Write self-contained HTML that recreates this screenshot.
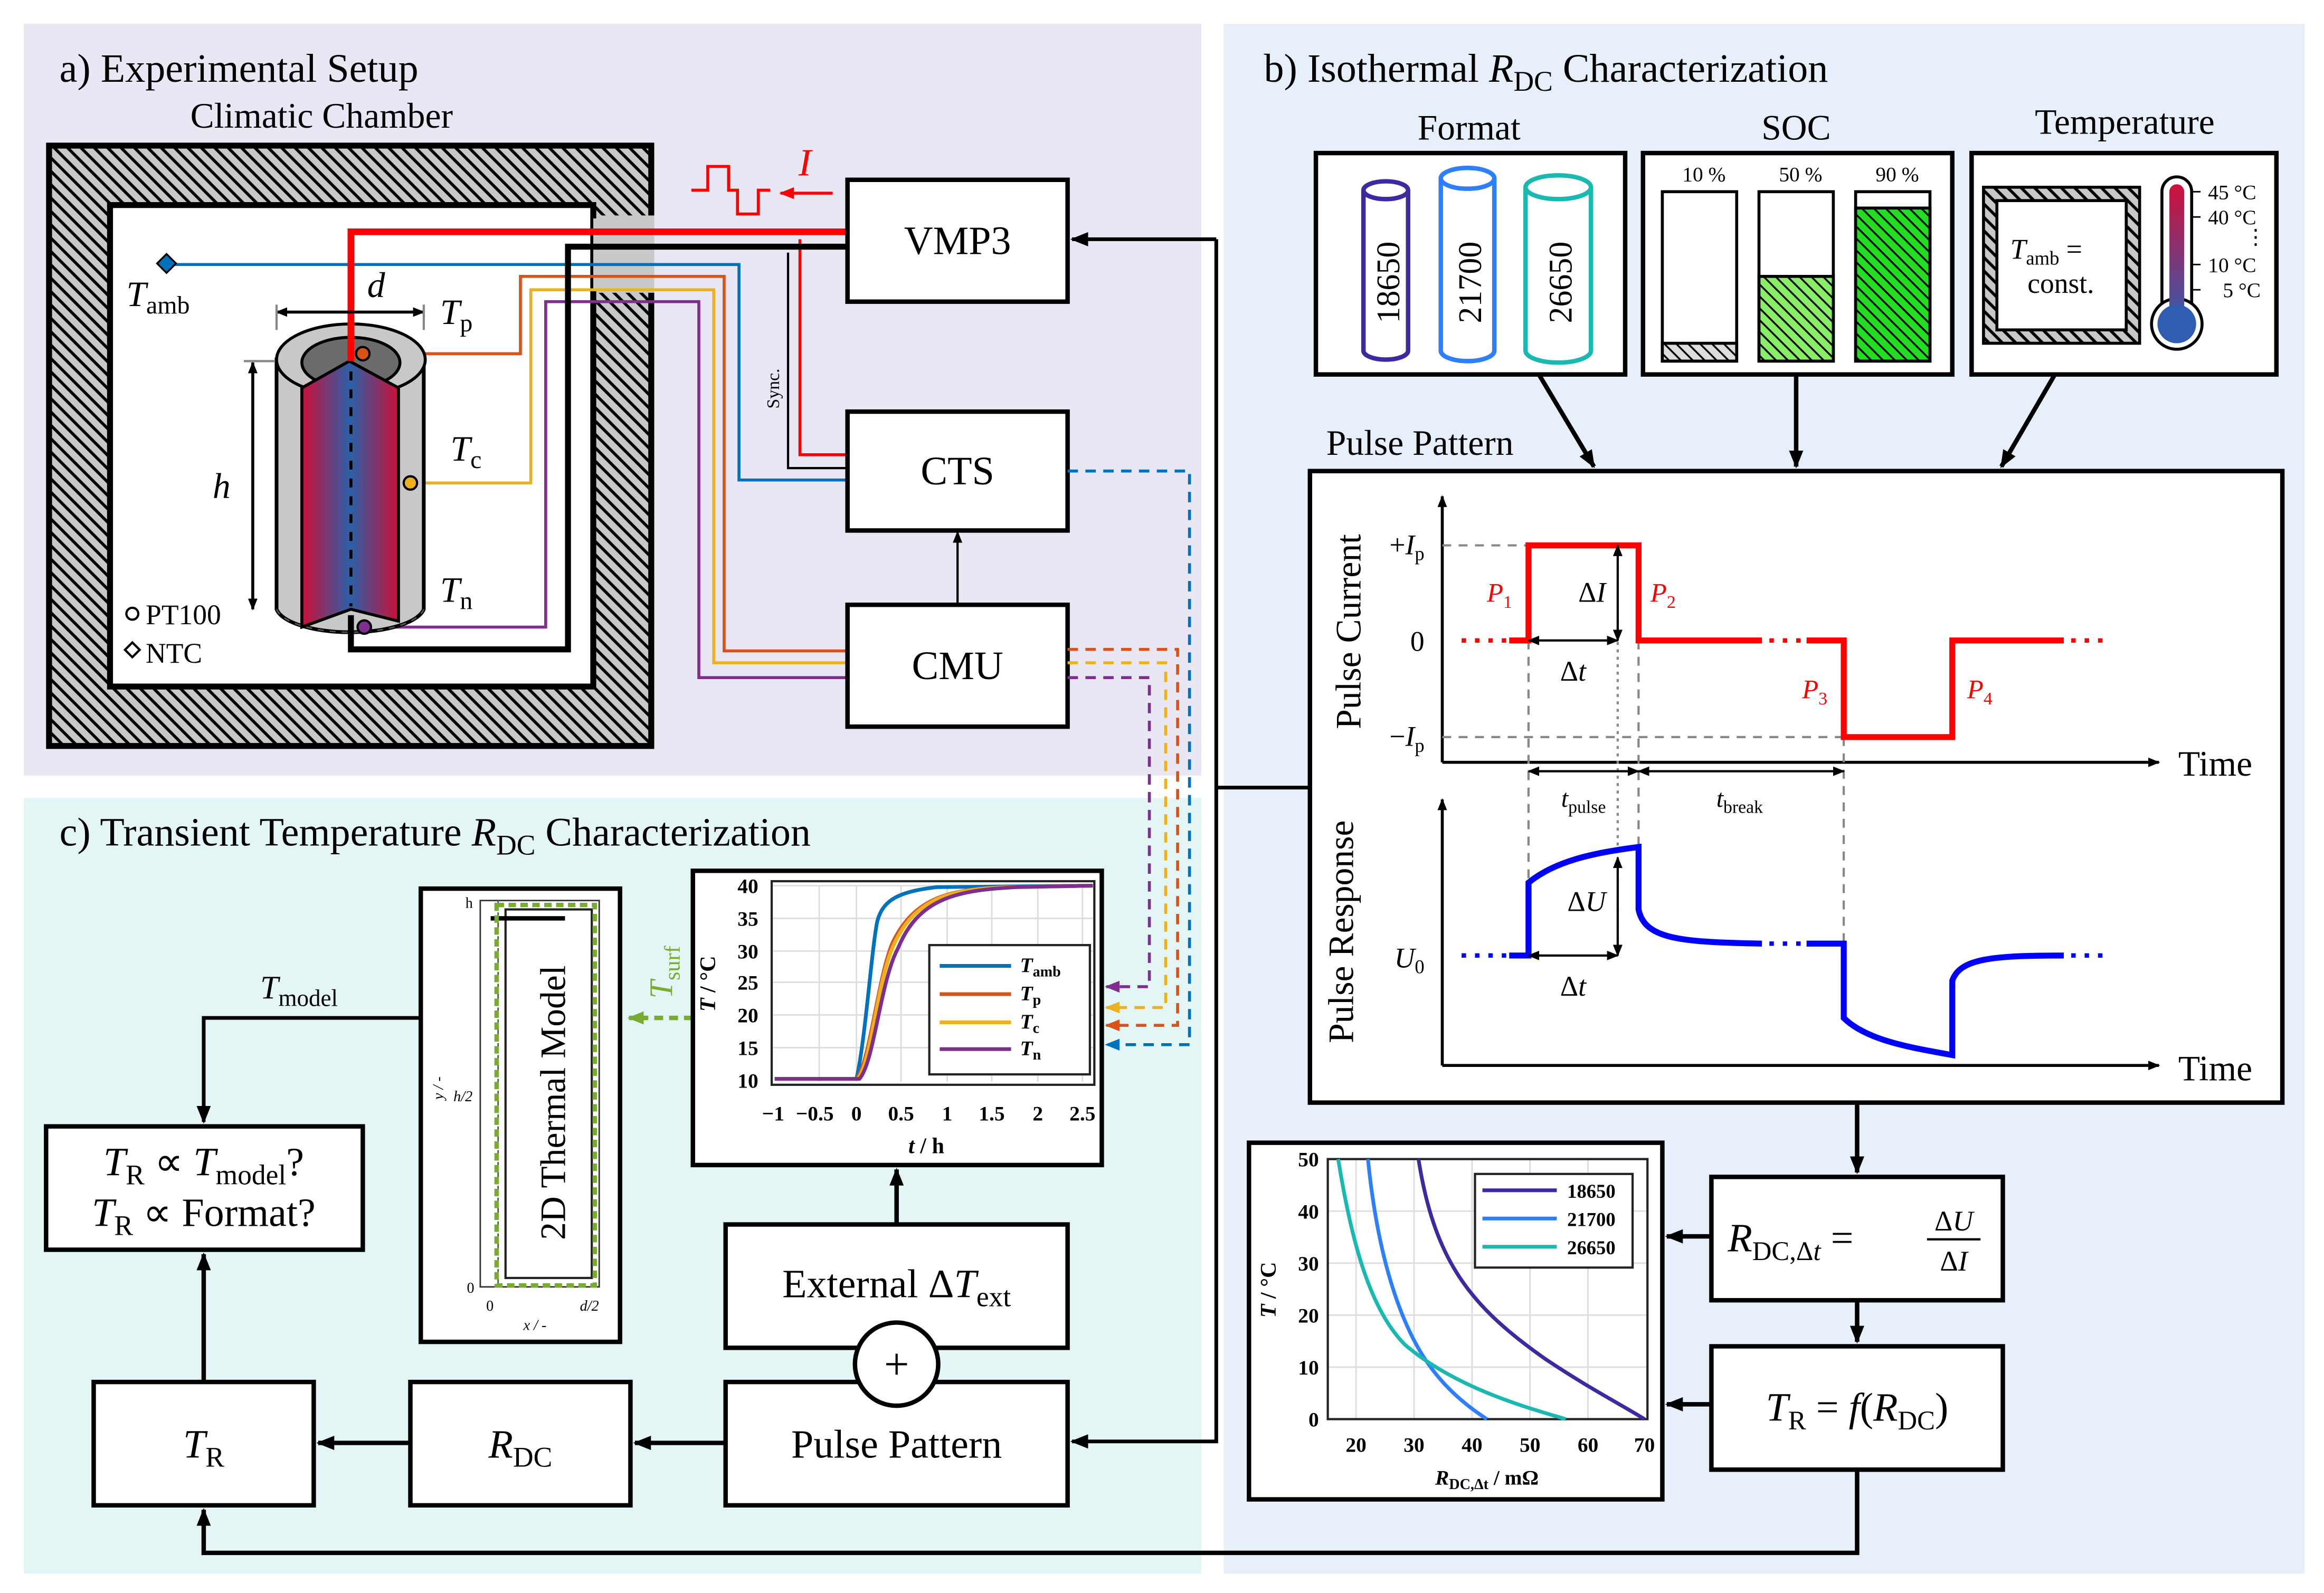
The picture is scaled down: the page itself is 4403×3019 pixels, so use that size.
<!DOCTYPE html>
<html><head><meta charset="utf-8"><style>
html,body{margin:0;padding:0;background:#fff}
svg{display:block}
text{font-family:"Liberation Serif",serif;fill:#000}
.i{font-style:italic}
</style></head><body>
<svg width="4403" height="3019" viewBox="0 0 1563 1072" preserveAspectRatio="none" xmlns="http://www.w3.org/2000/svg">
<defs>
<pattern id="hatch" width="9" height="9" patternUnits="userSpaceOnUse">
<rect width="9" height="9" fill="#c8c8c8"/><path d="M-2,-2 L11,11 M-2,7 L2,11 M7,-2 L11,2" stroke="#000" stroke-width="2"/></pattern>
<pattern id="ghatch" width="8" height="8" patternUnits="userSpaceOnUse">
<rect width="8" height="8" fill="#22dd22"/><path d="M-2,-2 L10,10 M-2,6 L2,10 M6,-2 L10,2" stroke="#000" stroke-width="1.2"/></pattern>
<pattern id="lghatch" width="8" height="8" patternUnits="userSpaceOnUse">
<rect width="8" height="8" fill="#88ee66"/><path d="M-2,-2 L10,10 M-2,6 L2,10 M6,-2 L10,2" stroke="#000" stroke-width="1.2"/></pattern>
<pattern id="bhatch" width="8" height="8" patternUnits="userSpaceOnUse">
<rect width="8" height="8" fill="#ddd"/><path d="M-2,-2 L10,10 M-2,6 L2,10 M6,-2 L10,2" stroke="#000" stroke-width="1.2"/></pattern>
<linearGradient id="cellg" x1="0" x2="1" y1="0" y2="0">
<stop offset="0" stop-color="#cc0f36"/><stop offset="0.5" stop-color="#2a60a8"/><stop offset="1" stop-color="#cc0f36"/></linearGradient>
<linearGradient id="therm" x1="0" x2="0" y1="0" y2="1">
<stop offset="0" stop-color="#d0103a"/><stop offset="1" stop-color="#2f5db0"/></linearGradient>
<marker id="ar" viewBox="0 0 10 10" refX="9" refY="5" markerWidth="5" markerHeight="5" orient="auto-start-reverse" markerUnits="userSpaceOnUse"><path d="M0,0 L10,5 L0,10 Z"/></marker>
<marker id="a2" viewBox="0 0 10 10" refX="9" refY="5" markerWidth="12" markerHeight="12" orient="auto-start-reverse" markerUnits="userSpaceOnUse"><path d="M0,1 L10,5 L0,9 Z" fill="#000"/></marker>
<marker id="as" viewBox="0 0 10 10" refX="9" refY="5" markerWidth="8" markerHeight="8" orient="auto-start-reverse" markerUnits="userSpaceOnUse"><path d="M0,1 L10,5 L0,9 Z" fill="#000"/></marker>
<marker id="ab" viewBox="0 0 10 10" refX="9" refY="5" markerWidth="10" markerHeight="10" orient="auto-start-reverse" markerUnits="userSpaceOnUse"><path d="M0,1 L10,5 L0,9 Z" fill="#0072bd"/></marker>
<marker id="ao" viewBox="0 0 10 10" refX="9" refY="5" markerWidth="10" markerHeight="10" orient="auto-start-reverse" markerUnits="userSpaceOnUse"><path d="M0,1 L10,5 L0,9 Z" fill="#d95319"/></marker>
<marker id="ay" viewBox="0 0 10 10" refX="9" refY="5" markerWidth="10" markerHeight="10" orient="auto-start-reverse" markerUnits="userSpaceOnUse"><path d="M0,1 L10,5 L0,9 Z" fill="#edb120"/></marker>
<marker id="ap" viewBox="0 0 10 10" refX="9" refY="5" markerWidth="10" markerHeight="10" orient="auto-start-reverse" markerUnits="userSpaceOnUse"><path d="M0,1 L10,5 L0,9 Z" fill="#7e2f8e"/></marker>
<marker id="ag" viewBox="0 0 10 10" refX="9" refY="5" markerWidth="11" markerHeight="11" orient="auto-start-reverse" markerUnits="userSpaceOnUse"><path d="M0,1 L10,5 L0,9 Z" fill="#77ac30"/></marker>
<marker id="ared" viewBox="0 0 10 10" refX="9" refY="5" markerWidth="10" markerHeight="10" orient="auto-start-reverse" markerUnits="userSpaceOnUse"><path d="M0,1 L10,5 L0,9 Z" fill="#f00"/></marker>
</defs>

<!-- panels -->
<rect x="16" y="16" width="792" height="506" fill="#e9e7f4"/>
<rect x="823" y="16" width="727" height="1043" fill="#e7effb"/>
<rect x="16" y="537" width="792" height="522" fill="#e3f6f5"/>

<!-- Panel a -->
<text x="40" y="55" font-size="27">a) Experimental Setup</text>
<text x="128" y="86" font-size="24">Climatic Chamber</text>
<rect x="33" y="98" width="405" height="404" fill="url(#hatch)" stroke="#000" stroke-width="4"/>
<rect x="399" y="145" width="41" height="52" fill="#c8c8c8"/>
<rect x="74" y="138" width="325" height="324" fill="#fff" stroke="#000" stroke-width="4"/>
<rect x="399" y="147" width="3" height="48" fill="#c8c8c8"/>

<!-- wires -->
<polyline points="112,178 497,178 497,323 570,323" fill="none" stroke="#0072bd" stroke-width="2"/>
<polyline points="244,238 350,238 350,186 487,186 487,438 570,438" fill="none" stroke="#d95319" stroke-width="2"/>
<polyline points="276,325 357,325 357,195 480,195 480,446 570,446" fill="none" stroke="#edb120" stroke-width="2"/>
<polyline points="245,422 367,422 367,203 470,203 470,456 570,456" fill="none" stroke="#7e2f8e" stroke-width="2"/>
<polyline points="538,161 538,306 570,306" fill="none" stroke="#f00" stroke-width="2"/>
<polyline points="530,170 530,315 570,315" fill="none" stroke="#000" stroke-width="1.5"/>
<text transform="translate(524,275) rotate(-90)" font-size="12">Sync.</text>

<!-- cell -->
<path d="M186,242 L186,410 A50,18 0 0 0 285,410 L285,242 Z" fill="#c8c8c8" stroke="#000" stroke-width="2.5"/>
<ellipse cx="236" cy="242" rx="50" ry="24" fill="#c8c8c8" stroke="#000" stroke-width="2"/>
<ellipse cx="236" cy="244" rx="33" ry="17" fill="#6b6b6b" stroke="#000" stroke-width="2"/>
<path d="M203,261 L235,243 L268,261 L268,418 L236,410 L203,422 Z" fill="url(#cellg)" stroke="#000" stroke-width="2"/>
<line x1="236" y1="250" x2="236" y2="408" stroke="#000" stroke-width="2" stroke-dasharray="6,6"/>
<path d="M186,410 A50,18 0 0 0 285,410" fill="none" stroke="#555" stroke-width="1" stroke-dasharray="4,4"/>
<polyline points="236,243 236,156 570,156" fill="none" stroke="#f00" stroke-width="4.5"/>
<polyline points="236,414 236,437 382,437 382,166 570,166" fill="none" stroke="#000" stroke-width="4"/>
<circle cx="244" cy="238" r="4.5" fill="#d95319" stroke="#000" stroke-width="1.5"/>
<circle cx="276" cy="325" r="4.5" fill="#edb120" stroke="#000" stroke-width="1.5"/>
<circle cx="245" cy="422" r="4.5" fill="#7e2f8e" stroke="#000" stroke-width="1.5"/>
<rect x="107" y="173" width="9" height="9" transform="rotate(45 112 178)" fill="#0072bd" stroke="#000" stroke-width="1.2"/>
<line x1="186" y1="210" x2="285" y2="210" stroke="#000" stroke-width="2" marker-start="url(#as)" marker-end="url(#as)"/>
<line x1="186" y1="205" x2="186" y2="222" stroke="#888" stroke-width="1.5"/>
<line x1="285" y1="205" x2="285" y2="222" stroke="#888" stroke-width="1.5"/>
<line x1="170" y1="244" x2="170" y2="410" stroke="#000" stroke-width="2" marker-start="url(#as)" marker-end="url(#as)"/>
<line x1="164" y1="243" x2="185" y2="243" stroke="#888" stroke-width="1.5"/>
<text x="247" y="200" font-size="24" class="i">d</text>
<text x="143" y="335" font-size="24" class="i">h</text>
<text x="85" y="206" font-size="24" class="i">T<tspan font-size="17" font-style="normal" dy="5">amb</tspan></text>
<text x="296" y="218" font-size="24" class="i">T<tspan font-size="17" font-style="normal" dy="5">p</tspan></text>
<text x="303" y="310" font-size="24" class="i">T<tspan font-size="17" font-style="normal" dy="5">c</tspan></text>
<text x="296" y="405" font-size="24" class="i">T<tspan font-size="17" font-style="normal" dy="5">n</tspan></text>
<circle cx="89" cy="413" r="4" fill="#fff" stroke="#000" stroke-width="1.5"/>
<text x="98" y="420" font-size="19">PT100</text>
<rect x="85" y="434" width="7" height="7" transform="rotate(45 89 438)" fill="#fff" stroke="#000" stroke-width="1.5"/>
<text x="98" y="446" font-size="19">NTC</text>

<!-- current symbol -->
<polyline points="465,128 476,128 476,112 490,112 490,128 496,128 496,144 510,144 510,128 518,128" fill="none" stroke="#f00" stroke-width="2"/>
<line x1="560" y1="130" x2="525" y2="130" stroke="#f00" stroke-width="2" marker-end="url(#ared)"/>
<text x="537" y="118" font-size="26" fill="#f00" class="i" style="fill:#f00">I</text>

<!-- boxes a -->
<rect x="570" y="121" width="148" height="82" fill="#fff" stroke="#000" stroke-width="3"/>
<text x="644" y="171" font-size="27" text-anchor="middle">VMP3</text>
<rect x="570" y="277" width="148" height="80" fill="#fff" stroke="#000" stroke-width="3"/>
<text x="644" y="326" font-size="27" text-anchor="middle">CTS</text>
<rect x="570" y="407" width="148" height="82" fill="#fff" stroke="#000" stroke-width="3"/>
<text x="644" y="457" font-size="27" text-anchor="middle">CMU</text>
<line x1="644" y1="407" x2="644" y2="358" stroke="#000" stroke-width="1.5" marker-end="url(#as)"/>

<!-- dashed to chart -->
<polyline points="718,317 800,317 800,703 744,703" fill="none" stroke="#0072bd" stroke-width="2" stroke-dasharray="7,5" marker-end="url(#ab)"/>
<polyline points="718,437 792,437 792,690 744,690" fill="none" stroke="#d95319" stroke-width="2" stroke-dasharray="7,5" marker-end="url(#ao)"/>
<polyline points="718,446 784,446 784,678 744,678" fill="none" stroke="#edb120" stroke-width="2" stroke-dasharray="7,5" marker-end="url(#ay)"/>
<polyline points="718,456 773,456 773,664 744,664" fill="none" stroke="#7e2f8e" stroke-width="2" stroke-dasharray="7,5" marker-end="url(#ap)"/>

<!-- main connector -->
<polyline points="818,161 818,970 721,970" fill="none" stroke="#000" stroke-width="2.5" marker-end="url(#a2)"/>
<line x1="818" y1="161" x2="721" y2="161" stroke="#000" stroke-width="2.5" marker-end="url(#a2)"/>
<line x1="818" y1="530" x2="881" y2="530" stroke="#000" stroke-width="2.5"/>

<!-- Panel b -->
<text x="850" y="55" font-size="27">b) Isothermal <tspan class="i">R</tspan><tspan font-size="19" dy="6">DC</tspan><tspan dy="-6"> Characterization</tspan></text>
<text x="988" y="94" font-size="24" text-anchor="middle">Format</text>
<text x="1208" y="94" font-size="24" text-anchor="middle">SOC</text>
<text x="1429" y="90" font-size="24" text-anchor="middle">Temperature</text>
<rect x="885" y="103" width="208" height="149" fill="#fff" stroke="#000" stroke-width="3"/>
<rect x="1105" y="103" width="208" height="149" fill="#fff" stroke="#000" stroke-width="3"/>
<rect x="1326" y="103" width="205" height="149" fill="#fff" stroke="#000" stroke-width="3"/>
<!-- cylinders -->
<g fill="#fff" stroke-width="3">
<path d="M917,128 L917,236 A15,6 0 0 0 947,236 L947,128" stroke="#3b2aa0"/><ellipse cx="932" cy="128" rx="15" ry="6" stroke="#3b2aa0"/>
<path d="M969,120 L969,236 A18,7 0 0 0 1005,236 L1005,120" stroke="#2e7fff"/><ellipse cx="987" cy="120" rx="18" ry="7" stroke="#2e7fff"/>
<path d="M1026,126 L1026,236 A22,8 0 0 0 1070,236 L1070,126" stroke="#19b8b0"/><ellipse cx="1048" cy="126" rx="22" ry="8" stroke="#19b8b0"/>
</g>
<text transform="translate(941,190) rotate(-90)" font-size="22" text-anchor="middle">18650</text>
<text transform="translate(996,190) rotate(-90)" font-size="22" text-anchor="middle">21700</text>
<text transform="translate(1057,190) rotate(-90)" font-size="22" text-anchor="middle">26650</text>
<!-- SOC bars -->
<text x="1146" y="122" font-size="14" text-anchor="middle">10 %</text>
<text x="1211" y="122" font-size="14" text-anchor="middle">50 %</text>
<text x="1276" y="122" font-size="14" text-anchor="middle">90 %</text>
<rect x="1118" y="129" width="50" height="114" fill="#fff" stroke="#000" stroke-width="2"/>
<rect x="1118" y="231" width="50" height="12" fill="url(#bhatch)" stroke="#000" stroke-width="2"/>
<rect x="1183" y="129" width="50" height="114" fill="#fff" stroke="#000" stroke-width="2"/>
<rect x="1183" y="186" width="50" height="57" fill="url(#lghatch)" stroke="#000" stroke-width="2"/>
<rect x="1248" y="129" width="50" height="114" fill="#fff" stroke="#000" stroke-width="2"/>
<rect x="1248" y="140" width="50" height="103" fill="url(#ghatch)" stroke="#000" stroke-width="2"/>
<!-- temp -->
<rect x="1334" y="126" width="105" height="105" fill="url(#hatch)" stroke="#000" stroke-width="2"/>
<rect x="1343" y="135" width="87" height="87" fill="#fff" stroke="#000" stroke-width="2"/>
<text x="1352" y="174" font-size="19" class="i">T<tspan font-size="13" font-style="normal" dy="4">amb</tspan><tspan font-style="normal" dy="-4"> =</tspan></text>
<text x="1386" y="197" font-size="19" text-anchor="middle">const.</text>
<rect x="1454" y="119" width="20" height="98" rx="10" fill="#fff" stroke="#000" stroke-width="2"/>
<circle cx="1464" cy="218" r="17" fill="#fff" stroke="#000" stroke-width="2"/>
<rect x="1459" y="124" width="10" height="96" rx="5" fill="url(#therm)"/>
<circle cx="1464" cy="218" r="13" fill="#2f5db0"/>
<g stroke="#000" stroke-width="1"><line x1="1474" y1="129" x2="1480" y2="129"/><line x1="1474" y1="146" x2="1480" y2="146"/><line x1="1474" y1="178" x2="1480" y2="178"/><line x1="1474" y1="195" x2="1480" y2="195"/></g>
<g font-size="14"><text x="1485" y="134">45 °C</text><text x="1485" y="151">40 °C</text><text x="1510" y="164">⋮</text><text x="1485" y="183">10 °C</text><text x="1495" y="200">5 °C</text></g>
<line x1="1035" y1="252" x2="1072" y2="314" stroke="#000" stroke-width="3" marker-end="url(#a2)"/>
<line x1="1208" y1="252" x2="1208" y2="314" stroke="#000" stroke-width="3" marker-end="url(#a2)"/>
<line x1="1382" y1="252" x2="1346" y2="314" stroke="#000" stroke-width="3" marker-end="url(#a2)"/>
<text x="892" y="306" font-size="24">Pulse Pattern</text>

<!-- pulse box -->
<rect x="881" y="317" width="654" height="425" fill="#fff" stroke="#000" stroke-width="3"/>
<text transform="translate(915,425) rotate(-90)" font-size="24" text-anchor="middle">Pulse Current</text>
<text transform="translate(910,627) rotate(-90)" font-size="24" text-anchor="middle">Pulse Response</text>
<line x1="970" y1="513" x2="970" y2="334" stroke="#000" stroke-width="2" marker-end="url(#as)"/>
<line x1="970" y1="513" x2="1452" y2="513" stroke="#000" stroke-width="2" marker-end="url(#as)"/>
<text x="1465" y="522" font-size="24">Time</text>
<line x1="970" y1="717" x2="970" y2="538" stroke="#000" stroke-width="2" marker-end="url(#as)"/>
<line x1="970" y1="717" x2="1452" y2="717" stroke="#000" stroke-width="2" marker-end="url(#as)"/>
<text x="1465" y="727" font-size="24">Time</text>
<g stroke="#888" stroke-width="1.5" stroke-dasharray="6,5" fill="none">
<line x1="970" y1="367" x2="1028" y2="367"/><line x1="970" y1="496" x2="1240" y2="496"/>
<line x1="1028" y1="431" x2="1028" y2="645"/><line x1="1102" y1="431" x2="1102" y2="570"/><line x1="1240" y1="496" x2="1240" y2="640"/>
</g>
<line x1="1088" y1="367" x2="1088" y2="640" stroke="#888" stroke-width="1.5" stroke-dasharray="2,3"/>
<text x="958" y="373" font-size="19" text-anchor="end"><tspan>+</tspan><tspan class="i">I</tspan><tspan font-size="13" dy="4">p</tspan></text>
<text x="958" y="438" font-size="19" text-anchor="end">0</text>
<text x="958" y="502" font-size="19" text-anchor="end"><tspan>−</tspan><tspan class="i">I</tspan><tspan font-size="13" dy="4">p</tspan></text>
<text x="958" y="651" font-size="19" text-anchor="end" class="i">U<tspan font-size="13" font-style="normal" dy="4">0</tspan></text>
<g fill="none" stroke="#f00" stroke-width="4">
<polyline points="1015,431 1028,431 1028,367 1102,367 1102,431 1185,431"/>
<polyline points="1215,431 1240,431 1240,496 1313,496 1313,431 1388,431"/>
</g>
<g fill="none" stroke="#f00" stroke-width="3" stroke-dasharray="3,6"><line x1="983" y1="431" x2="1013" y2="431"/><line x1="1190" y1="431" x2="1213" y2="431"/><line x1="1393" y1="431" x2="1418" y2="431"/></g>
<g font-size="18" class="i" style="fill:#f00">
<text x="1000" y="405" style="fill:#f00">P<tspan font-size="12" font-style="normal" dy="4">1</tspan></text>
<text x="1110" y="405" style="fill:#f00">P<tspan font-size="12" font-style="normal" dy="4">2</tspan></text>
<text x="1212" y="470" style="fill:#f00">P<tspan font-size="12" font-style="normal" dy="4">3</tspan></text>
<text x="1323" y="470" style="fill:#f00">P<tspan font-size="12" font-style="normal" dy="4">4</tspan></text>
</g>
<line x1="1088" y1="367" x2="1088" y2="431" stroke="#000" stroke-width="1.5" marker-start="url(#as)" marker-end="url(#as)"/>
<text x="1080" y="405" font-size="19" text-anchor="end">Δ<tspan class="i">I</tspan></text>
<line x1="1028" y1="431" x2="1088" y2="431" stroke="#000" stroke-width="1.5" marker-start="url(#as)" marker-end="url(#as)"/>
<text x="1058" y="458" font-size="19" text-anchor="middle">Δ<tspan class="i">t</tspan></text>
<line x1="1028" y1="519" x2="1102" y2="519" stroke="#000" stroke-width="1.5" marker-start="url(#as)" marker-end="url(#as)"/>
<line x1="1102" y1="519" x2="1240" y2="519" stroke="#000" stroke-width="1.5" marker-start="url(#as)" marker-end="url(#as)"/>
<text x="1065" y="543" font-size="17" text-anchor="middle" class="i">t<tspan font-size="12" font-style="normal" dy="4">pulse</tspan></text>
<text x="1170" y="543" font-size="17" text-anchor="middle" class="i">t<tspan font-size="12" font-style="normal" dy="4">break</tspan></text>
<g fill="none" stroke="#00f" stroke-width="4">
<path d="M1015,643 L1028,643 L1028,594 C1045,580 1070,574 1102,570 L1102,612 C1106,632 1130,634 1185,635"/>
<path d="M1215,635 L1240,635 L1240,685 C1255,700 1285,705 1313,710 L1313,660 C1318,645 1340,643 1388,643"/>
</g>
<g fill="none" stroke="#00f" stroke-width="3" stroke-dasharray="3,6"><line x1="983" y1="643" x2="1013" y2="643"/><line x1="1190" y1="635" x2="1213" y2="635"/><line x1="1393" y1="643" x2="1418" y2="643"/></g>
<line x1="1088" y1="577" x2="1088" y2="643" stroke="#000" stroke-width="1.5" marker-start="url(#as)" marker-end="url(#as)"/>
<text x="1080" y="613" font-size="19" text-anchor="end">Δ<tspan class="i">U</tspan></text>
<line x1="1028" y1="643" x2="1088" y2="643" stroke="#000" stroke-width="1.5" marker-start="url(#as)" marker-end="url(#as)"/>
<text x="1058" y="670" font-size="19" text-anchor="middle">Δ<tspan class="i">t</tspan></text>

<!-- RDC / TR boxes -->
<line x1="1249" y1="742" x2="1249" y2="789" stroke="#000" stroke-width="3" marker-end="url(#a2)"/>
<rect x="1151" y="792" width="196" height="83" fill="#fff" stroke="#000" stroke-width="3"/>
<text x="1162" y="842" font-size="27" class="i">R<tspan font-size="18" font-style="normal" dy="6">DC,Δ</tspan><tspan font-size="18" dy="0">t</tspan><tspan font-style="normal" dy="-6"> =</tspan></text>
<text x="1314" y="828" font-size="19" text-anchor="middle">Δ<tspan class="i">U</tspan></text>
<line x1="1296" y1="834" x2="1332" y2="834" stroke="#000" stroke-width="1.5"/>
<text x="1314" y="855" font-size="19" text-anchor="middle">Δ<tspan class="i">I</tspan></text>
<line x1="1249" y1="875" x2="1249" y2="903" stroke="#000" stroke-width="3" marker-end="url(#a2)"/>
<rect x="1151" y="906" width="196" height="83" fill="#fff" stroke="#000" stroke-width="3"/>
<text x="1249" y="956" font-size="27" text-anchor="middle"><tspan class="i">T</tspan><tspan font-size="18" dy="6">R</tspan><tspan dy="-6"> = </tspan><tspan class="i">f</tspan>(<tspan class="i">R</tspan><tspan font-size="18" dy="6">DC</tspan><tspan dy="-6">)</tspan></text>
<line x1="1151" y1="832" x2="1121" y2="832" stroke="#000" stroke-width="3" marker-end="url(#a2)"/>
<line x1="1151" y1="945" x2="1121" y2="945" stroke="#000" stroke-width="3" marker-end="url(#a2)"/>
<polyline points="1249,989 1249,1045 137,1045 137,1016" fill="none" stroke="#000" stroke-width="3" marker-end="url(#a2)"/>

<!-- RDC chart -->
<rect x="840" y="769" width="278" height="240" fill="#fff" stroke="#000" stroke-width="3"/>
<g stroke="#ddd" stroke-width="1">
<line x1="912" y1="780" x2="912" y2="955"/><line x1="951" y1="780" x2="951" y2="955"/><line x1="990" y1="780" x2="990" y2="955"/><line x1="1029" y1="780" x2="1029" y2="955"/><line x1="1068" y1="780" x2="1068" y2="955"/>
<line x1="893" y1="815" x2="1108" y2="815"/><line x1="893" y1="850" x2="1108" y2="850"/><line x1="893" y1="885" x2="1108" y2="885"/><line x1="893" y1="920" x2="1108" y2="920"/>
</g>
<rect x="893" y="780" width="215" height="175" fill="none" stroke="#222" stroke-width="1.5"/>
<g fill="none" stroke-width="2.5">
<path d="M954,780 C965,850 990,880 1040,915 C1070,935 1090,945 1106,955" stroke="#3b2aa0"/>
<path d="M920,780 C925,830 935,870 950,900 C965,930 985,945 1000,955" stroke="#2e7fff"/>
<path d="M900,780 C908,830 920,880 945,905 C980,935 1030,948 1053,955" stroke="#19b8b0"/>
</g>
<rect x="992" y="790" width="106" height="63" fill="#fff" stroke="#222" stroke-width="1.5"/>
<line x1="997" y1="801" x2="1047" y2="801" stroke="#3b2aa0" stroke-width="2.5"/><text x="1054" y="806" font-size="13" font-weight="bold">18650</text>
<line x1="997" y1="820" x2="1047" y2="820" stroke="#2e7fff" stroke-width="2.5"/><text x="1054" y="825" font-size="13" font-weight="bold">21700</text>
<line x1="997" y1="839" x2="1047" y2="839" stroke="#19b8b0" stroke-width="2.5"/><text x="1054" y="844" font-size="13" font-weight="bold">26650</text>
<g font-size="14" text-anchor="end" font-weight="bold"><text x="887" y="785">50</text><text x="887" y="820">40</text><text x="887" y="855">30</text><text x="887" y="890">20</text><text x="887" y="925">10</text><text x="887" y="960">0</text></g>
<g font-size="14" text-anchor="middle" font-weight="bold"><text x="912" y="977">20</text><text x="951" y="977">30</text><text x="990" y="977">40</text><text x="1029" y="977">50</text><text x="1068" y="977">60</text><text x="1106" y="977">70</text></g>
<text transform="translate(858,868) rotate(-90)" font-size="15" text-anchor="middle" font-weight="bold"><tspan class="i">T</tspan> / °C</text>
<text x="1000" y="999" font-size="14" text-anchor="middle" font-weight="bold"><tspan class="i">R</tspan><tspan font-size="10" dy="3">DC,Δt</tspan><tspan dy="-3"> / mΩ</tspan></text>

<!-- Panel c -->
<text x="40" y="569" font-size="27">c) Transient Temperature <tspan class="i">R</tspan><tspan font-size="19" dy="6">DC</tspan><tspan dy="-6"> Characterization</tspan></text>
<!-- thermal model -->
<rect x="283" y="598" width="134" height="305" fill="#fff" stroke="#000" stroke-width="3"/>
<rect x="323" y="606" width="80" height="260" fill="none" stroke="#333" stroke-width="1"/>
<line x1="335" y1="606" x2="335" y2="866" stroke="#555" stroke-width="1" stroke-dasharray="6,2,2,2"/>
<rect x="340" y="612" width="58" height="248" fill="none" stroke="#222" stroke-width="1.5"/>
<line x1="330" y1="618" x2="380" y2="618" stroke="#000" stroke-width="3"/>
<rect x="334" y="609" width="66" height="256" fill="none" stroke="#77ac30" stroke-width="3" stroke-dasharray="5,3"/>
<text transform="translate(380,742) rotate(-90)" font-size="24" text-anchor="middle">2D Thermal Model</text>
<g font-size="10"><text x="313" y="611">h</text><text x="305" y="741" class="i">h/2</text><text x="314" y="870">0</text><text x="327" y="882">0</text><text x="390" y="882" class="i">d/2</text></g>
<text x="352" y="895" font-size="10" class="i">x / -</text>
<text transform="translate(298,740) rotate(-90)" font-size="10" class="i">y / -</text>
<line x1="466" y1="685" x2="423" y2="685" stroke="#77ac30" stroke-width="3" stroke-dasharray="6,4" marker-end="url(#ag)"/>
<text transform="translate(452,672) rotate(-90)" font-size="22" class="i" style="fill:#77ac30">T<tspan font-size="15" font-style="normal" dy="5" style="fill:#77ac30">surf</tspan></text>
<polyline points="283,685 137,685 137,755" fill="none" stroke="#000" stroke-width="2.5" marker-end="url(#a2)"/>
<text x="175" y="672" font-size="22" class="i">T<tspan font-size="16" font-style="normal" dy="5">model</tspan></text>

<!-- temperature chart -->
<rect x="466" y="586" width="275" height="198" fill="#fff" stroke="#000" stroke-width="3"/>
<g stroke="#ddd" stroke-width="1">
<line x1="551" y1="596" x2="551" y2="728"/><line x1="576" y1="596" x2="576" y2="728"/><line x1="606" y1="596" x2="606" y2="728"/><line x1="637" y1="596" x2="637" y2="728"/><line x1="667" y1="596" x2="667" y2="728"/><line x1="698" y1="596" x2="698" y2="728"/><line x1="728" y1="596" x2="728" y2="728"/>
<line x1="520" y1="596" x2="735" y2="596"/><line x1="520" y1="618" x2="735" y2="618"/><line x1="520" y1="640" x2="735" y2="640"/><line x1="520" y1="661" x2="735" y2="661"/><line x1="520" y1="683" x2="735" y2="683"/><line x1="520" y1="705" x2="735" y2="705"/>
</g>
<rect x="519" y="593" width="217" height="137" fill="none" stroke="#222" stroke-width="1.5"/>
<g fill="none" stroke-width="2.5">
<path d="M521,726 L576,726 C582,700 586,640 590,620 C594,605 605,600 630,597 L735,596" stroke="#0072bd"/>
<path d="M521,726 L576,726 C585,715 590,660 600,635 C615,603 640,598 680,597 L735,596" stroke="#d95319"/>
<path d="M521,726 L577,726 C586,715 590,660 601,636 C616,603 641,598 681,597 L735,596" stroke="#edb120"/>
<path d="M521,726 L578,726 C588,715 592,660 604,638 C618,604 644,599 684,597 L735,596" stroke="#7e2f8e"/>
</g>
<rect x="625" y="636" width="108" height="87" fill="#fff" stroke="#222" stroke-width="1.5"/>
<line x1="632" y1="650" x2="680" y2="650" stroke="#0072bd" stroke-width="2.5"/><text x="686" y="654" font-size="14" class="i" font-weight="bold">T<tspan font-size="10" font-style="normal" dy="3">amb</tspan></text>
<line x1="632" y1="669" x2="680" y2="669" stroke="#d95319" stroke-width="2.5"/><text x="686" y="673" font-size="14" class="i" font-weight="bold">T<tspan font-size="10" font-style="normal" dy="3">p</tspan></text>
<line x1="632" y1="688" x2="680" y2="688" stroke="#edb120" stroke-width="2.5"/><text x="686" y="692" font-size="14" class="i" font-weight="bold">T<tspan font-size="10" font-style="normal" dy="3">c</tspan></text>
<line x1="632" y1="706" x2="680" y2="706" stroke="#7e2f8e" stroke-width="2.5"/><text x="686" y="710" font-size="14" class="i" font-weight="bold">T<tspan font-size="10" font-style="normal" dy="3">n</tspan></text>
<g font-size="14" text-anchor="end" font-weight="bold"><text x="510" y="601">40</text><text x="510" y="623">35</text><text x="510" y="645">30</text><text x="510" y="666">25</text><text x="510" y="688">20</text><text x="510" y="710">15</text><text x="510" y="732">10</text></g>
<g font-size="14" text-anchor="middle" font-weight="bold"><text x="520" y="754">−1</text><text x="548" y="754">−0.5</text><text x="576" y="754">0</text><text x="606" y="754">0.5</text><text x="637" y="754">1</text><text x="667" y="754">1.5</text><text x="698" y="754">2</text><text x="728" y="754">2.5</text></g>
<text x="623" y="776" font-size="15" text-anchor="middle" font-weight="bold"><tspan class="i">t</tspan> / h</text>
<text transform="translate(481,662) rotate(-90)" font-size="15" text-anchor="middle" font-weight="bold"><tspan class="i">T</tspan> / °C</text>

<!-- boxes c -->
<line x1="603" y1="824" x2="603" y2="787" stroke="#000" stroke-width="3" marker-end="url(#a2)"/>
<rect x="488" y="824" width="230" height="83" fill="#fff" stroke="#000" stroke-width="3"/>
<text x="603" y="873" font-size="27" text-anchor="middle">External Δ<tspan class="i">T</tspan><tspan font-size="19" dy="6">ext</tspan></text>
<rect x="488" y="930" width="230" height="83" fill="#fff" stroke="#000" stroke-width="3"/>
<text x="603" y="981" font-size="27" text-anchor="middle">Pulse Pattern</text>
<circle cx="603" cy="918" r="28" fill="#fff" stroke="#000" stroke-width="3"/>
<text x="603" y="928" font-size="30" text-anchor="middle">+</text>
<rect x="276" y="930" width="148" height="83" fill="#fff" stroke="#000" stroke-width="3"/>
<text x="350" y="981" font-size="27" text-anchor="middle"><tspan class="i">R</tspan><tspan font-size="19" dy="6">DC</tspan></text>
<rect x="63" y="930" width="148" height="83" fill="#fff" stroke="#000" stroke-width="3"/>
<text x="137" y="981" font-size="27" text-anchor="middle"><tspan class="i">T</tspan><tspan font-size="19" dy="6">R</tspan></text>
<line x1="488" y1="971" x2="427" y2="971" stroke="#000" stroke-width="3" marker-end="url(#a2)"/>
<line x1="276" y1="971" x2="214" y2="971" stroke="#000" stroke-width="3" marker-end="url(#a2)"/>
<line x1="137" y1="930" x2="137" y2="844" stroke="#000" stroke-width="3" marker-end="url(#a2)"/>
<rect x="31" y="758" width="213" height="83" fill="#fff" stroke="#000" stroke-width="3"/>
<text x="137" y="791" font-size="27" text-anchor="middle"><tspan class="i">T</tspan><tspan font-size="19" dy="6">R</tspan><tspan dy="-6"> ∝ </tspan><tspan class="i">T</tspan><tspan font-size="19" dy="6">model</tspan><tspan dy="-6">?</tspan></text>
<text x="137" y="825" font-size="27" text-anchor="middle"><tspan class="i">T</tspan><tspan font-size="19" dy="6">R</tspan><tspan dy="-6"> ∝ Format?</tspan></text>
</svg>
</body></html>
